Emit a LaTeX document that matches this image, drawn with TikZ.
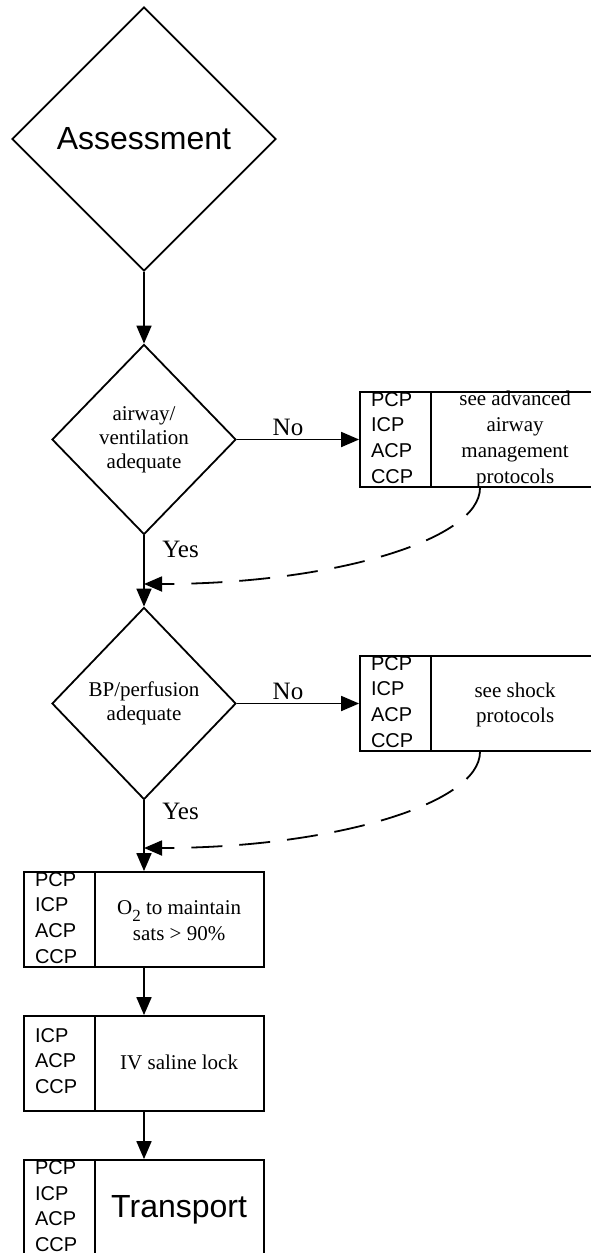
\documentclass[tikz,border=0pt]{standalone}
\usepackage{fontspec}
\setmainfont{Liberation Serif}
\newfontfamily\sansarial{Liberation Sans}
\usetikzlibrary{shapes.geometric,arrows.meta}

\begin{document}
\begin{tikzpicture}[x=1pt,y=-1pt,
  line width=1.8pt,
  flow/.style={-{Triangle[length=18pt,width=15pt]}},
  backflow/.style={flow, dash pattern=on 31pt off 17pt},
  decision/.style={draw, diamond, inner sep=0pt, align=center,
    font=\fontsize{21}{24}\selectfont},
  stepbox/.style={draw, rectangle, minimum width=240pt, minimum height=95pt, inner sep=0pt},
  roles/.style={anchor=west, inner sep=0pt, align=left,
    font=\sansarial\fontsize{20}{25.8}\selectfont},
  action/.style={inner sep=0pt, align=center, font=\fontsize{21}{25.8}\selectfont},
  answer/.style={inner sep=0pt, font=\fontsize{25}{25}\selectfont},
]
\useasboundingbox (0,0) rectangle (590,1253);

% decisions
\node[decision, minimum width=264pt, minimum height=264pt,
      font=\sansarial\fontsize{32}{32}\selectfont] (assess) at (144,139) {Assessment};
\node[decision, minimum width=184pt, minimum height=190pt] (airway) at (144,439.5)
  {airway/\\ventilation\\adequate};
\node[decision, minimum width=184pt, minimum height=192pt] (bp) at (144,703.5)
  {BP/perfusion\\adequate};

% protocol boxes
\node[stepbox] (airbox)   at (480,439.5)  {};
\node[stepbox] (shockbox) at (480,703.5)  {};
\node[stepbox] (oxybox)   at (144,919.5)  {};
\node[stepbox] (ivbox)    at (144,1063.5) {};
\node[stepbox] (transbox) at (144,1207.5) {};

\foreach \b in {airbox,shockbox,oxybox,ivbox,transbox}
  \draw ([xshift=72pt]\b.north west) -- ([xshift=72pt]\b.south west);

% provider levels
\node[roles] (airroles)   at ([xshift=11pt,yshift=1.5pt]airbox.west)   {PCP\\ICP\\ACP\\CCP};
\node[roles] (shockroles) at ([xshift=11pt,yshift=1.5pt]shockbox.west) {PCP\\ICP\\ACP\\CCP};
\node[roles] (oxyroles)   at ([xshift=11pt,yshift=1.5pt]oxybox.west)   {PCP\\ICP\\ACP\\CCP};
\node[roles] (ivroles)    at ([xshift=11pt,yshift=2.5pt]ivbox.west)    {ICP\\ACP\\CCP};
\node[roles] (transroles) at ([xshift=11pt,yshift=1.5pt]transbox.west) {PCP\\ICP\\ACP\\CCP};

% actions
\node[action] (airtext)   at ([xshift=156pt]airbox.west)
  {see advanced\\airway\\management\\protocols};
\node[action] (shocktext) at ([xshift=156pt,yshift=-1.5pt]shockbox.west)
  {see shock\\protocols};
\node[action] (oxytext)   at ([xshift=156pt,yshift=-1pt]oxybox.west)
  {O\raisebox{-7pt}{\fontsize{17}{17}\selectfont 2} to maintain\\sats > 90\%};
\node[action] (ivtext)    at ([xshift=156pt,yshift=1pt]ivbox.west)
  {IV saline lock};
\node[action, font=\sansarial\fontsize{32}{32}\selectfont] (transtext)
  at ([xshift=156pt,yshift=-2.4pt]transbox.west) {Transport};

% main flow
\draw[flow] (assess) -- (airway);
\draw[flow] (airway) -- (airbox);
\draw[flow] (airway) -- (bp);
\draw[flow] (bp) -- (shockbox);
\draw[flow] (bp) -- (oxybox);
\draw[flow] (oxybox) -- (ivbox);
\draw[flow] (ivbox) -- (transbox);

% returns from the protocol boxes
\coordinate (join1) at (144,584);
\coordinate (join2) at (144,848);
\draw[backflow] (airbox.south) .. controls +(0,53) and +(185,0) .. (join1);
\draw[backflow] (shockbox.south) .. controls +(0,53) and +(185,0) .. (join2);

% branch labels
\node[answer, anchor=base] (no1) at (288,435) {No};
\node[answer, anchor=base] (no2) at (288,699) {No};
\node[answer, anchor=base west] (yes1) at (161.5,557) {Yes};
\node[answer, anchor=base west] (yes2) at (161.5,819) {Yes};
\end{tikzpicture}
\end{document}
